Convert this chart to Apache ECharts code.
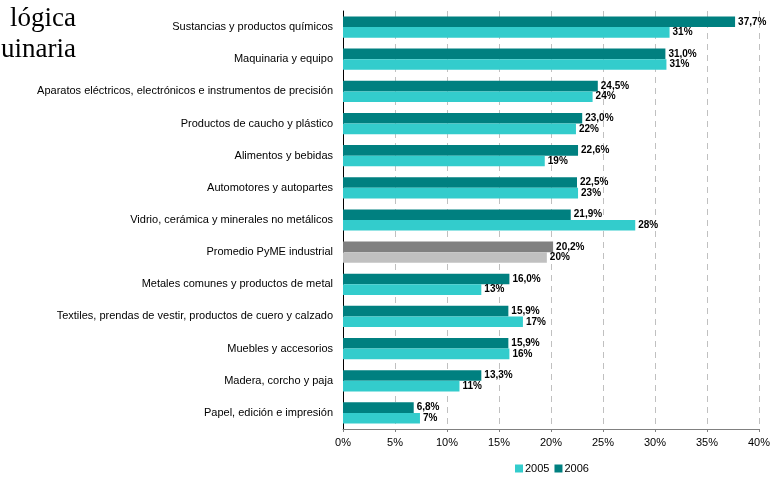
<!DOCTYPE html>
<html>
<head>
<meta charset="utf-8">
<script src="https://cdn.jsdelivr.net/npm/echarts@6/dist/echarts.min.js"></script>
<style>html,body{margin:0;padding:0;background:#fff}#c{width:780px;height:478px}</style>
</head>
<body>
<div id="c"></div>
<script>
var categories = [
  "Sustancias y productos químicos",
  "Maquinaria y equipo",
  "Aparatos eléctricos, electrónicos e instrumentos de precisión",
  "Productos de caucho y plástico",
  "Alimentos y bebidas",
  "Automotores y autopartes",
  "Vidrio, cerámica y minerales no metálicos",
  "Promedio PyME industrial",
  "Metales comunes y productos de metal",
  "Textiles, prendas de vestir, productos de cuero y calzado",
  "Muebles y accesorios",
  "Madera, corcho y paja",
  "Papel, edición e impresión"
];
var values2005 = [31.4, 31.1, 24.0, 22.4, 19.4, 22.6, 28.1, 19.6, 13.3, 17.3, 16.0, 11.2, 7.4];
var values2006 = [37.7, 31.0, 24.5, 23.0, 22.6, 22.5, 21.9, 20.2, 16.0, 15.9, 15.9, 13.3, 6.8];
var xTicks = [0, 5, 10, 15, 20, 25, 30, 35, 40];
var averageCategory = "Promedio PyME industrial";

var C2005 = '#33CCCC', C2006 = '#008080', G2005 = '#C0C0C0', G2006 = '#808080';
function mk(vals, col, gcol) {
  return vals.map(function (v, i) {
    return { value: v, itemStyle: { color: categories[i] === averageCategory ? gcol : col } };
  });
}
var chart = echarts.init(document.getElementById('c'), null, { renderer: 'canvas' });
var lbl = { show: true, position: 'right', distance: 3, color: '#000', fontFamily: 'Liberation Sans, Arial', fontWeight: 'bold', fontSize: 10 };
chart.setOption({
  animation: false,
  grid: { left: 343, right: 21, top: 11, bottom: 49, containLabel: false },
  legend: {
    data: ['2005', '2006'], left: 510, top: 458, itemWidth: 8, itemHeight: 8, itemGap: 5,
    icon: 'rect',
    textStyle: { fontFamily: 'Liberation Sans, Arial', fontSize: 11, color: '#000', padding: [0, 0, 0, -3] }
  },
  xAxis: {
    type: 'value', min: xTicks[0], max: xTicks[xTicks.length - 1], interval: 5,
    axisLine: { show: true, lineStyle: { color: '#808080' } },
    axisTick: { show: true, length: 3, lineStyle: { color: '#808080' } },
    splitLine: { show: true, lineStyle: { color: '#C0C0C0', type: [6, 5], width: 1 } },
    axisLabel: { formatter: '{value}%', fontFamily: 'Liberation Sans, Arial', fontSize: 11, color: '#000', margin: 8 }
  },
  yAxis: {
    type: 'category', data: categories, inverse: true,
    axisLine: { show: true, lineStyle: { color: '#000' } },
    axisTick: { show: false },
    axisLabel: { fontFamily: 'Liberation Sans, Arial', fontSize: 11, color: '#000', margin: 10 }
  },
  series: [
    { name: '2006', type: 'bar', data: mk(values2006, C2006, G2006), itemStyle: { color: C2006 },
      barGap: '0%', barCategoryGap: '34%',
      label: Object.assign({}, lbl, { formatter: function (p) { return p.value.toFixed(1).replace('.', ',') + '%'; } }) },
    { name: '2005', type: 'bar', data: mk(values2005, C2005, G2005), itemStyle: { color: C2005 },
      barGap: '0%', barCategoryGap: '34%',
      label: Object.assign({}, lbl, { formatter: function (p) { return Math.round(p.value) + '%'; } }) }
  ],
  graphic: [
    { type: 'text', right: 780 - 76, top: 5, style: { text: 'lógica', font: '27px "Liberation Serif", "Times New Roman", serif', fill: '#000', textAlign: 'right' } },
    { type: 'text', right: 780 - 76, top: 36, style: { text: 'uinaria', font: '27px "Liberation Serif", "Times New Roman", serif', fill: '#000', textAlign: 'right' } }
  ]
});
</script>
</body>
</html>
